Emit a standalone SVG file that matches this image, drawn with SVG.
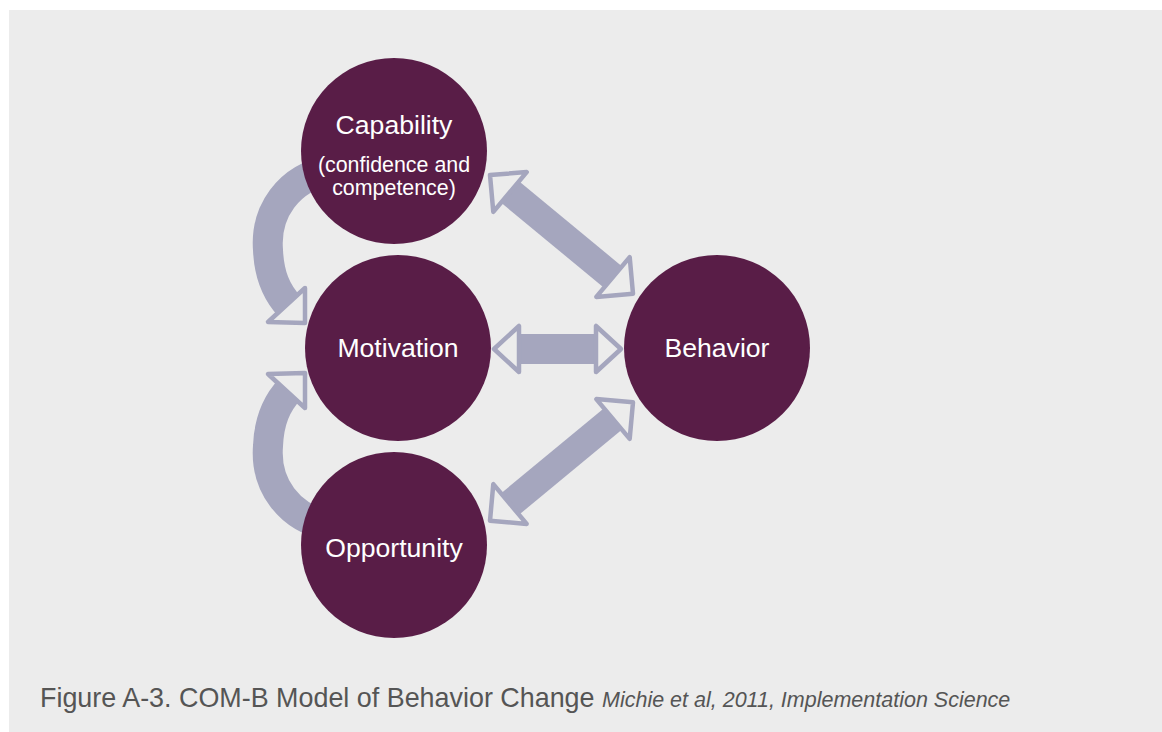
<svg xmlns="http://www.w3.org/2000/svg" width="1162" height="732" viewBox="0 0 1162 732">
  <style>
    .panel { fill: #ececec; }
    .node { fill: #591d47; }
    .band { fill: none; stroke: #a5a6be; }
    .head { fill: #ececec; stroke: #a5a6be; stroke-width: 4.5; stroke-linejoin: round; }
    .lbl { font-family: "Liberation Sans", Arial, sans-serif; fill: #ffffff; text-anchor: middle; }
    .big { font-size: 26.6px; }
    .small { font-size: 21.4px; }
    .cap { font-family: "Liberation Sans", Arial, sans-serif; fill: #555555; }
  </style>
  <rect x="0" y="0" width="1162" height="732" fill="#ffffff"/>
  <rect class="panel" x="9" y="10" width="1153" height="722"/>

  <g id="connectors">
    <!-- Capability -> Motivation curved -->
    <path class="band" stroke-width="30" d="M 330,170 C 288,178 265,212 268,250 C 269,275 276,292 290,307"/>
    <polygon class="head" points="305,288 268,322 305,323"/>
    <!-- Opportunity -> Motivation curved -->
    <path class="band" stroke-width="30" d="M 330,526 C 288,518 265,484 268,446 C 269,421 276,404 290,389"/>
    <polygon class="head" points="305,408 268,374 305,373"/>
    <!-- Capability <-> Behavior -->
    <line class="band" stroke-width="28" x1="508" y1="190.3" x2="615" y2="278.7"/>
    <polygon class="head" points="490,175 493.3,211.9 526.7,172.1"/>
    <polygon class="head" points="633,293.7 596.3,296.9 629.7,257.1"/>
    <!-- Motivation <-> Behavior -->
    <line class="band" stroke-width="30" x1="517" y1="349" x2="598" y2="349"/>
    <polygon class="head" points="494,349 519,326 519,372"/>
    <polygon class="head" points="621,349 596,326 596,372"/>
    <!-- Opportunity <-> Behavior -->
    <line class="band" stroke-width="28" x1="508" y1="505.7" x2="615" y2="417.3"/>
    <polygon class="head" points="490,520.7 526.7,523.9 493.3,484.1"/>
    <polygon class="head" points="633,402.3 629.7,438.9 596.3,399.1"/>
  </g>

  <g id="capability">
    <circle class="node" cx="394" cy="151" r="93"/>
    <text class="lbl big" x="394" y="134">Capability</text>
    <text class="lbl small" x="394" y="172">(confidence and</text>
    <text class="lbl small" x="394" y="195">competence)</text>
  </g>
  <g id="motivation">
    <circle class="node" cx="398" cy="348" r="93"/>
    <text class="lbl big" x="398" y="357">Motivation</text>
  </g>
  <g id="opportunity">
    <circle class="node" cx="394" cy="545" r="93"/>
    <text class="lbl big" x="394" y="557">Opportunity</text>
  </g>
  <g id="behavior">
    <circle class="node" cx="717" cy="348" r="93"/>
    <text class="lbl big" x="717" y="357">Behavior</text>
  </g>

  <g id="caption">
    <text class="cap" x="40" y="707" font-size="26.9">Figure A-3. COM-B Model of Behavior Change <tspan font-size="21.5" font-style="italic">Michie et al, 2011, Implementation Science</tspan></text>
  </g>
</svg>
